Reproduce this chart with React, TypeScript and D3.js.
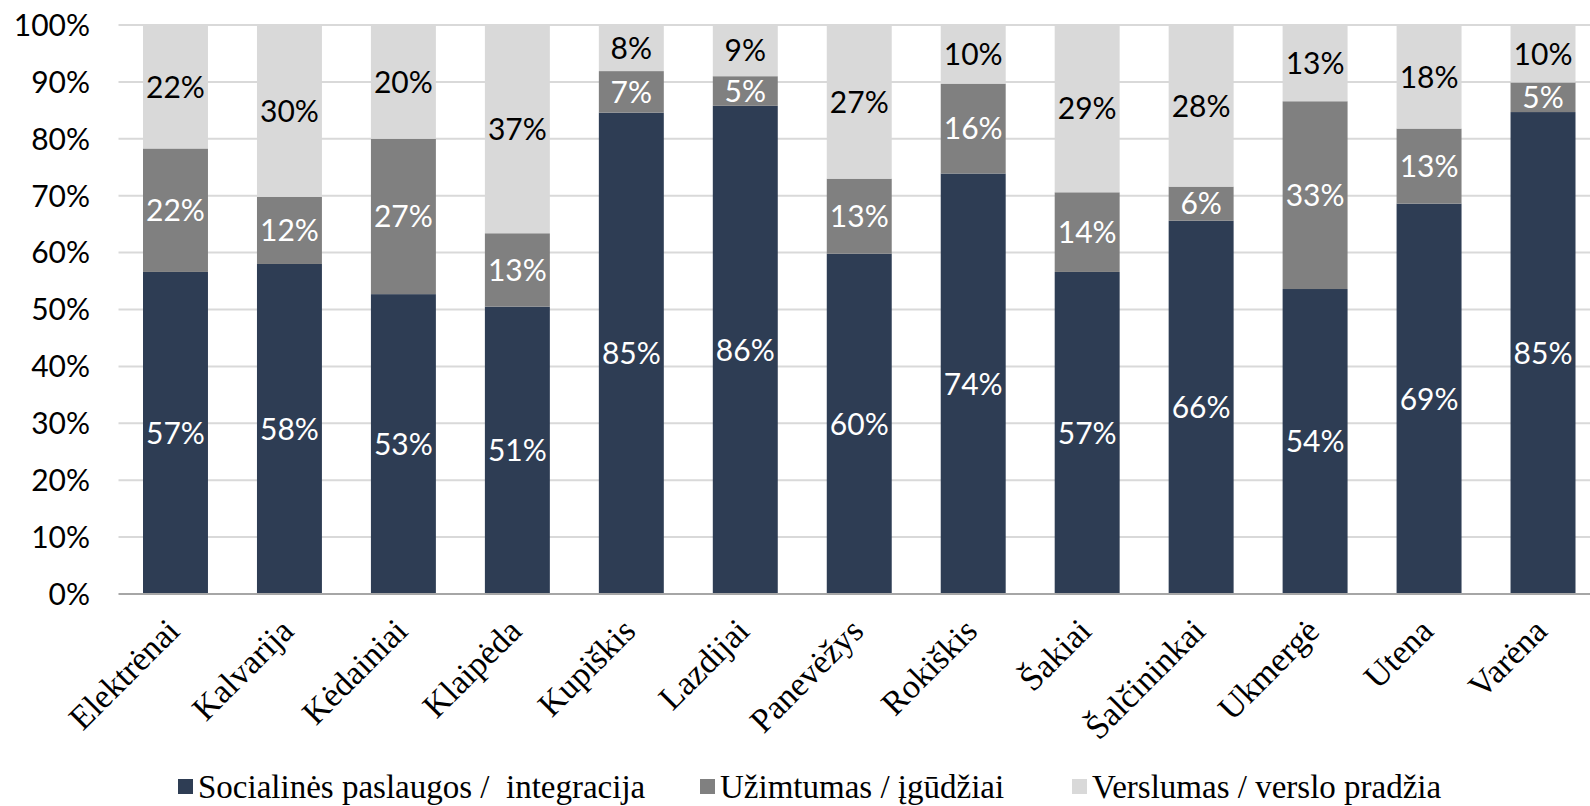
import * as d3 from "d3";

// categories and stacked shares (%)
const categories = [
  "Elektrėnai", "Kalvarija", "Kėdainiai", "Klaipėda", "Kupiškis", "Lazdijai",
  "Panevėžys", "Rokiškis", "Šakiai", "Šalčininkai", "Ukmergė", "Utena", "Varėna",
];
const socialines = [56.6, 58.0, 52.7, 50.5, 84.6, 85.8, 59.8, 73.9, 56.6, 65.6, 53.6, 68.6, 84.7];
const uzimtumas = [21.7, 11.8, 27.3, 12.9, 7.3, 5.2, 13.2, 15.8, 14.0, 6.0, 33.0, 13.2, 5.2];
const verslumas = [21.7, 30.2, 20.0, 36.6, 8.1, 9.0, 27.0, 10.3, 29.4, 28.4, 13.4, 18.2, 10.1];

const seriesNames = ["Socialinės paslaugos /  integracija", "Užimtumas / įgūdžiai", "Verslumas / verslo pradžia"];
const colors = ["#2e3d54", "#808080", "#d9d9d9"];
const labelColors = ["#ffffff", "#ffffff", "#000000"];
const yTicks = [0, 10, 20, 30, 40, 50, 60, 70, 80, 90, 100];

const width = 1590;
const height = 806;

export default function App() {
  const x = d3.scaleBand<string>()
    .domain(categories)
    .range([118.5, 1600])
    .paddingInner(0.43)
    .paddingOuter(0.215);

  const y = d3.scaleLinear().domain([0, 100]).range([594, 25]);

  const rows = categories.map((c, i) => ({
    cat: c,
    s0: socialines[i],
    s1: uzimtumas[i],
    s2: verslumas[i],
  }));
  const stack = d3.stack<any>().keys(["s0", "s1", "s2"])(rows);

  const numFont = "Lato, 'Open Sans', sans-serif";
  const serifFont = "'Liberation Serif', 'DejaVu Serif', serif";

  const legendX = [178, 700, 1072];

  return (
    <svg width={width} height={height} style={{ position: "absolute", left: 0, top: 0, background: "#fff" }}>
      {/* gridlines */}
      {yTicks.filter(t => t > 0).map(t => (
        <line key={t} x1={118.5} x2={width} y1={y(t)} y2={y(t)} stroke="#d9d9d9" strokeWidth={2} />
      ))}
      {/* bars */}
      {stack.map((layer, li) => (
        <g key={li} fill={colors[li]}>
          {layer.map((d, i) => (
            <rect key={i} x={x(categories[i])} width={x.bandwidth()}
              y={y(d[1])} height={y(d[0]) - y(d[1])} />
          ))}
        </g>
      ))}
      {/* data labels */}
      {stack.map((layer, li) => (
        <g key={"l" + li} fill={labelColors[li]} fontFamily={numFont} fontSize={30} textAnchor="middle">
          {layer.map((d, i) => (
            <text key={i} x={x(categories[i])! + x.bandwidth() / 2} y={y((d[0] + d[1]) / 2)} dy="0.36em">
              {Math.round(d[1] - d[0])}%
            </text>
          ))}
        </g>
      ))}
      {/* x axis line */}
      <line x1={118.5} x2={width} y1={y(0)} y2={y(0)} stroke="#a6a6a6" strokeWidth={2} />
      {/* y ticks */}
      <g fontFamily={numFont} fontSize={30} textAnchor="end" fill="#000">
        {yTicks.map(t => (
          <text key={t} x={90} y={y(t)} dy="0.36em">{t}%</text>
        ))}
      </g>
      {/* category labels */}
      <g fontFamily={serifFont} fontSize={34} textAnchor="end" fill="#000">
        {categories.map(c => (
          <text key={c} transform={`translate(${x(c)! + x.bandwidth() / 2 + 6},${633}) rotate(-45)`}>{c}</text>
        ))}
      </g>
      {/* legend */}
      <g fontFamily={serifFont} fontSize={33}>
        {seriesNames.map((n, i) => (
          <g key={n} transform={`translate(${legendX[i]},0)`}>
            <rect x={0} y={779} width={15} height={15} fill={colors[i]} />
            <text x={20} y={798} fill="#000" style={{ whiteSpace: "pre" }}>{n}</text>
          </g>
        ))}
      </g>
    </svg>
  );
}
